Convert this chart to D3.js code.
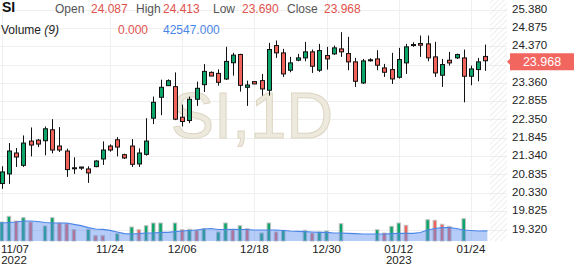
<!DOCTYPE html>
<html>
<head>
<meta charset="utf-8">
<script src="https://cdn.jsdelivr.net/npm/d3@7"></script>
<style>
body { margin: 0; background: #fff; }
svg { display: block; font-family: "Liberation Sans", Arial, sans-serif; }
</style>
</head>
<body>
<svg id="chart" width="576" height="268"></svg>
<script>
// daily bars, Sunday sessions included
var dates = ["11/07","11/08","11/09","11/10","11/11","11/13","11/14","11/15","11/16","11/17",
    "11/18","11/20","11/21","11/22","11/23","11/24","11/25","11/27","11/28","11/29",
    "11/30","12/01","12/02","12/04","12/05","12/06","12/07","12/08","12/09","12/11",
    "12/12","12/13","12/14","12/15","12/16","12/18","12/19","12/20","12/21","12/22",
    "12/23","12/26","12/27","12/28","12/29","12/30","01/02","01/03","01/04","01/05",
    "01/06","01/08","01/09","01/10","01/11","01/12","01/13","01/15","01/16","01/17",
    "01/18","01/19","01/20","01/22","01/23","01/24","01/25","01/26"];

var opens = [20.586,20.851,21.427,21.088,21.756,21.783,21.765,22.067,21.619,21.482,
    21.020,21.040,20.988,21.052,21.262,21.619,21.792,21.381,21.619,21.125,
    21.390,22.386,22.962,23.282,23.255,22.414,22.322,22.907,23.310,23.648,
    23.620,23.465,23.913,24.141,23.237,23.394,23.421,23.155,24.387,24.185,
    23.707,23.983,24.047,24.213,23.707,24.111,24.157,24.295,24.167,23.937,
    23.357,23.995,24.019,23.771,23.725,23.513,23.909,24.415,24.443,24.433,
    24.075,23.569,23.983,24.047,24.047,23.541,23.725,24.087];
var highs = [21.061,21.701,21.564,21.911,22.131,21.811,22.158,22.359,22.140,21.546,
    21.308,21.050,21.061,21.226,21.747,21.664,21.865,21.408,21.811,21.555,
    22.386,22.981,23.447,23.456,23.648,22.761,22.981,23.392,23.876,23.675,
    23.730,24.352,24.187,24.160,23.419,23.400,23.605,24.461,24.525,24.295,
    24.075,24.157,24.489,24.277,24.433,24.351,24.387,24.755,24.627,24.047,
    24.019,24.038,24.259,23.881,24.185,24.323,24.433,24.479,24.663,24.663,
    24.489,24.019,24.213,24.166,24.277,23.835,24.047,24.413];
var lows = [20.440,20.577,21.043,21.043,21.335,21.591,21.363,21.418,21.454,20.769,
    20.851,20.961,20.604,21.034,21.098,21.463,21.335,21.262,21.043,21.043,
    21.354,22.222,22.469,23.273,22.332,22.158,22.249,22.725,23.109,23.547,
    23.282,23.438,23.556,23.118,22.725,23.325,23.007,23.007,24.047,23.523,
    23.651,23.955,23.955,23.633,23.661,23.725,24.130,24.075,23.707,23.247,
    23.330,23.946,23.707,23.523,23.330,23.477,23.605,24.351,24.075,23.955,
    23.523,23.247,23.835,24.019,22.823,23.293,23.403,23.690];
var closes = [20.906,21.482,21.317,21.701,21.646,21.673,22.094,21.509,21.509,20.970,
    21.000,21.010,20.878,21.207,21.509,21.509,21.591,21.290,21.116,21.427,
    21.756,22.825,23.237,23.419,22.359,22.295,22.907,23.209,23.675,23.547,
    23.374,23.950,24.123,23.291,23.300,23.330,23.191,24.277,24.185,23.605,
    23.909,24.047,24.213,23.817,24.249,24.019,24.323,24.213,23.937,23.403,
    23.964,23.990,23.845,23.651,23.467,24.001,24.351,24.410,24.397,24.047,
    23.633,23.863,23.909,24.139,23.541,23.743,23.937,23.968];

var volumes = [80400,104500,84600,98600,80400,0,63500,98600,76200,73200,
    47800,0,49500,22400,22400,0,30900,0,59200,47800,
    64700,76200,76200,0,76200,47800,49500,46500,52000,0,
    38100,76200,47800,64700,52000,0,33800,76200,38100,45300,
    0,0,45300,33800,38100,42300,0,73200,0,0,
    0,0,47800,33800,62200,76200,66400,0,0,90100,
    87600,70700,62200,0,94400,0,0,0];
var volUp = [1,1,0,1,0,1,1,1,0,0,
    0,1,1,0,0,1,1,1,1,0,
    1,1,1,1,1,0,1,0,1,1,
    1,1,0,1,0,1,1,1,0,1,
    1,1,1,0,1,1,1,1,1,1,
    1,1,1,0,1,1,0,1,1,1,
    0,0,0,1,1,1,1,1];
var volMA = [76200,78300,80400,84600,84600,82500,78300,76200,76200,76200,
    70700,64700,56300,50800,49500,45300,38100,30900,29600,30900,
    33800,33800,36800,36800,39300,42300,44400,46500,50800,52900,
    48700,48700,49500,48700,48700,46500,46500,46500,46500,44400,
    42300,41000,39300,38100,36800,36800,33800,33800,32600,30900,
    29600,29600,29600,29600,30900,32600,32600,32600,36000,46500,
    52900,56300,56300,52900,46500,44400,42300,42547];

var yTicks = ["25.380","24.875","24.370","23.865","23.360","22.855","22.350","21.845",
    "21.340","20.835","20.330","19.825","19.320"];
var dateTicks = ["11/07","11/24","12/06","12/18","12/30","01/12","01/24"];
var yearLabels = { "11/07": "2022", "01/12": "2023" };

var green = "#0ba56a", red = "#f0625a";

var svg = d3.select("#chart");

var x = d3.scaleBand().domain(dates).range([-1.9, 489]).padding(0);
var cx = function(d) { return x(d) + x.bandwidth() / 2; };
var y = d3.scaleLinear().domain([19.320, 25.380]).range([229.5, 9.5]);
var yVol = d3.scaleLinear().domain([0, 110000]).range([241, 215]);

var plotRight = 490, hatchRight = 507, plotBottom = 241;
var lastI = dates.length - 1;
var by = y(closes[lastI]) + 1;

/* hatch pattern for the right margin */
var defs = svg.append("defs");
defs.append("pattern")
    .attr("id", "hatch")
    .attr("patternUnits", "userSpaceOnUse")
    .attr("width", 4).attr("height", 4)
    .attr("patternTransform", "rotate(45)")
    .append("line")
    .attr("x1", 0).attr("y1", 0).attr("x2", 0).attr("y2", 4)
    .attr("stroke", "#e2e2e2").attr("stroke-width", 1.2);

/* grid */
var grid = svg.append("g");
grid.selectAll("line.h")
    .data(yTicks)
    .enter().append("line")
    .attr("x1", 0).attr("x2", hatchRight)
    .attr("y1", function(d) { return Math.round(y(+d)) + 0.5; })
    .attr("y2", function(d) { return Math.round(y(+d)) + 0.5; })
    .attr("stroke", "#efefef");
grid.selectAll("line.v")
    .data(dateTicks)
    .enter().append("line")
    .attr("x1", function(d) { return Math.round(cx(d)) + 0.5; })
    .attr("x2", function(d) { return Math.round(cx(d)) + 0.5; })
    .attr("y1", 0).attr("y2", plotBottom)
    .attr("stroke", "#efefef");

svg.append("rect")
    .attr("x", plotRight).attr("y", 0)
    .attr("width", hatchRight - plotRight).attr("height", plotBottom)
    .attr("fill", "url(#hatch)");

/* watermark */
svg.append("text")
    .attr("x", 252).attr("y", 138)
    .attr("text-anchor", "middle")
    .attr("font-size", 65)
    .attr("fill", "#ede9dd")
    .attr("stroke", "#ddd6c4").attr("stroke-width", 1)
    .text("SI,1D");

/* volume */
var volG = svg.append("g");
volG.selectAll("rect")
    .data(dates.filter(function(d, i) { return volumes[i] > 0; }))
    .enter().append("rect")
    .attr("x", function(d) { return cx(d) - 1.75; })
    .attr("width", 3.5)
    .attr("y", function(d) { return yVol(volumes[dates.indexOf(d)]); })
    .attr("height", function(d) { return yVol(0) - yVol(volumes[dates.indexOf(d)]); })
    .attr("fill", function(d) { return volUp[dates.indexOf(d)] ? green : red; })
    .attr("stroke", "#c2c2c2").attr("stroke-width", 1);

var maPts = dates.map(function(d, i) { return [cx(d), volMA[i]]; });
maPts.unshift([0, volMA[0]]);
maPts.push([cx(dates[lastI]) + 2, volMA[lastI]]);

volG.append("path")
    .datum(maPts)
    .attr("d", d3.area().x(function(p) { return p[0]; }).y0(yVol(0)).y1(function(p) { return yVol(p[1]); }))
    .attr("fill", "#5b8def").attr("fill-opacity", 0.45);
volG.append("path")
    .datum(maPts)
    .attr("d", d3.line().x(function(p) { return p[0]; }).y(function(p) { return yVol(p[1]); }))
    .attr("fill", "none").attr("stroke", "#4a86e8").attr("stroke-width", 1.2);

/* candles */
var candles = svg.append("g").selectAll("g")
    .data(dates)
    .enter().append("g");
candles.append("line")
    .attr("x1", function(d) { return Math.round(cx(d)) + 0.5; })
    .attr("x2", function(d) { return Math.round(cx(d)) + 0.5; })
    .attr("y1", function(d, i) { return y(highs[i]); })
    .attr("y2", function(d, i) { return y(lows[i]); })
    .attr("stroke", "#111").attr("stroke-width", 1);
candles.append("rect")
    .attr("x", function(d) { return Math.round(cx(d)) - 1.5; })
    .attr("width", 4)
    .attr("y", function(d, i) { return y(Math.max(opens[i], closes[i])); })
    .attr("height", function(d, i) { return Math.max(1, Math.abs(y(opens[i]) - y(closes[i]))); })
    .attr("fill", function(d, i) { return closes[i] >= opens[i] ? green : red; })
    .attr("stroke", "#111").attr("stroke-width", 1);

/* price axis: the label sitting under the last-price badge is not drawn */
svg.append("g").selectAll("text")
    .data(yTicks.filter(function(t) { return Math.abs(y(+t) - by) > 9; }))
    .enter().append("text")
    .attr("x", 512)
    .attr("y", function(d) { return y(+d) - 1; })
    .attr("dy", "0.35em")
    .attr("font-size", 11.5)
    .attr("fill", "#222")
    .text(function(d) { return d; });

svg.append("path")
    .attr("d", "M507," + by + "L510," + (by - 3) + "V" + (by - 8.5) + "H574V" + (by + 8.5) + "H510V" + (by + 3) + "Z")
    .attr("fill", "#f26660");
svg.append("text")
    .attr("x", 542).attr("y", by)
    .attr("dy", "0.36em")
    .attr("text-anchor", "middle")
    .attr("font-size", 12.5)
    .attr("fill", "#fff")
    .text(closes[lastI].toFixed(3));

/* date axis */
var xLab = svg.append("g").selectAll("g")
    .data(dateTicks)
    .enter().append("g");
xLab.append("text")
    .attr("x", function(d) { return cx(d); })
    .attr("y", 253)
    .attr("text-anchor", "middle")
    .attr("font-size", 11.5)
    .attr("fill", "#222")
    .text(function(d) { return d; })
    .each(function() {
        var w = this.getComputedTextLength();
        var xx = +this.getAttribute("x");
        if (xx - w / 2 < 1) this.setAttribute("x", 1 + w / 2);
    });
xLab.append("text")
    .attr("x", function(d) { return Math.max(cx(d), 14); })
    .attr("y", 263.5)
    .attr("text-anchor", "middle")
    .attr("font-size", 11.5)
    .attr("fill", "#222")
    .text(function(d) { return yearLabels[d] || ""; });

/* legend header */
var head = svg.append("g").attr("font-size", 12);
head.append("text").attr("x", 2).attr("y", 12)
    .attr("font-size", 14).attr("font-weight", "bold").attr("fill", "#111").text("SI");
var ohlc = [
    ["Open", opens[lastI], 55, 91],
    ["High", highs[lastI], 136, 163],
    ["Low", lows[lastI], 213, 242],
    ["Close", closes[lastI], 287, 324]
];
ohlc.forEach(function(o) {
    head.append("text").attr("x", o[2]).attr("y", 13).attr("fill", "#555").text(o[0]);
    head.append("text").attr("x", o[3]).attr("y", 13).attr("fill", "#e0524e").text(o[1].toFixed(3));
});
var vt = head.append("text").attr("x", 1).attr("y", 34).attr("fill", "#222");
vt.append("tspan").text("Volume ");
vt.append("tspan").attr("font-style", "italic").text("(9)");
head.append("text").attr("x", 118).attr("y", 34).attr("fill", "#e0524e").text(volumes[lastI].toFixed(3));
head.append("text").attr("x", 163).attr("y", 34).attr("fill", "#4a86e8").text(volMA[lastI].toFixed(3));
</script>
</body>
</html>
